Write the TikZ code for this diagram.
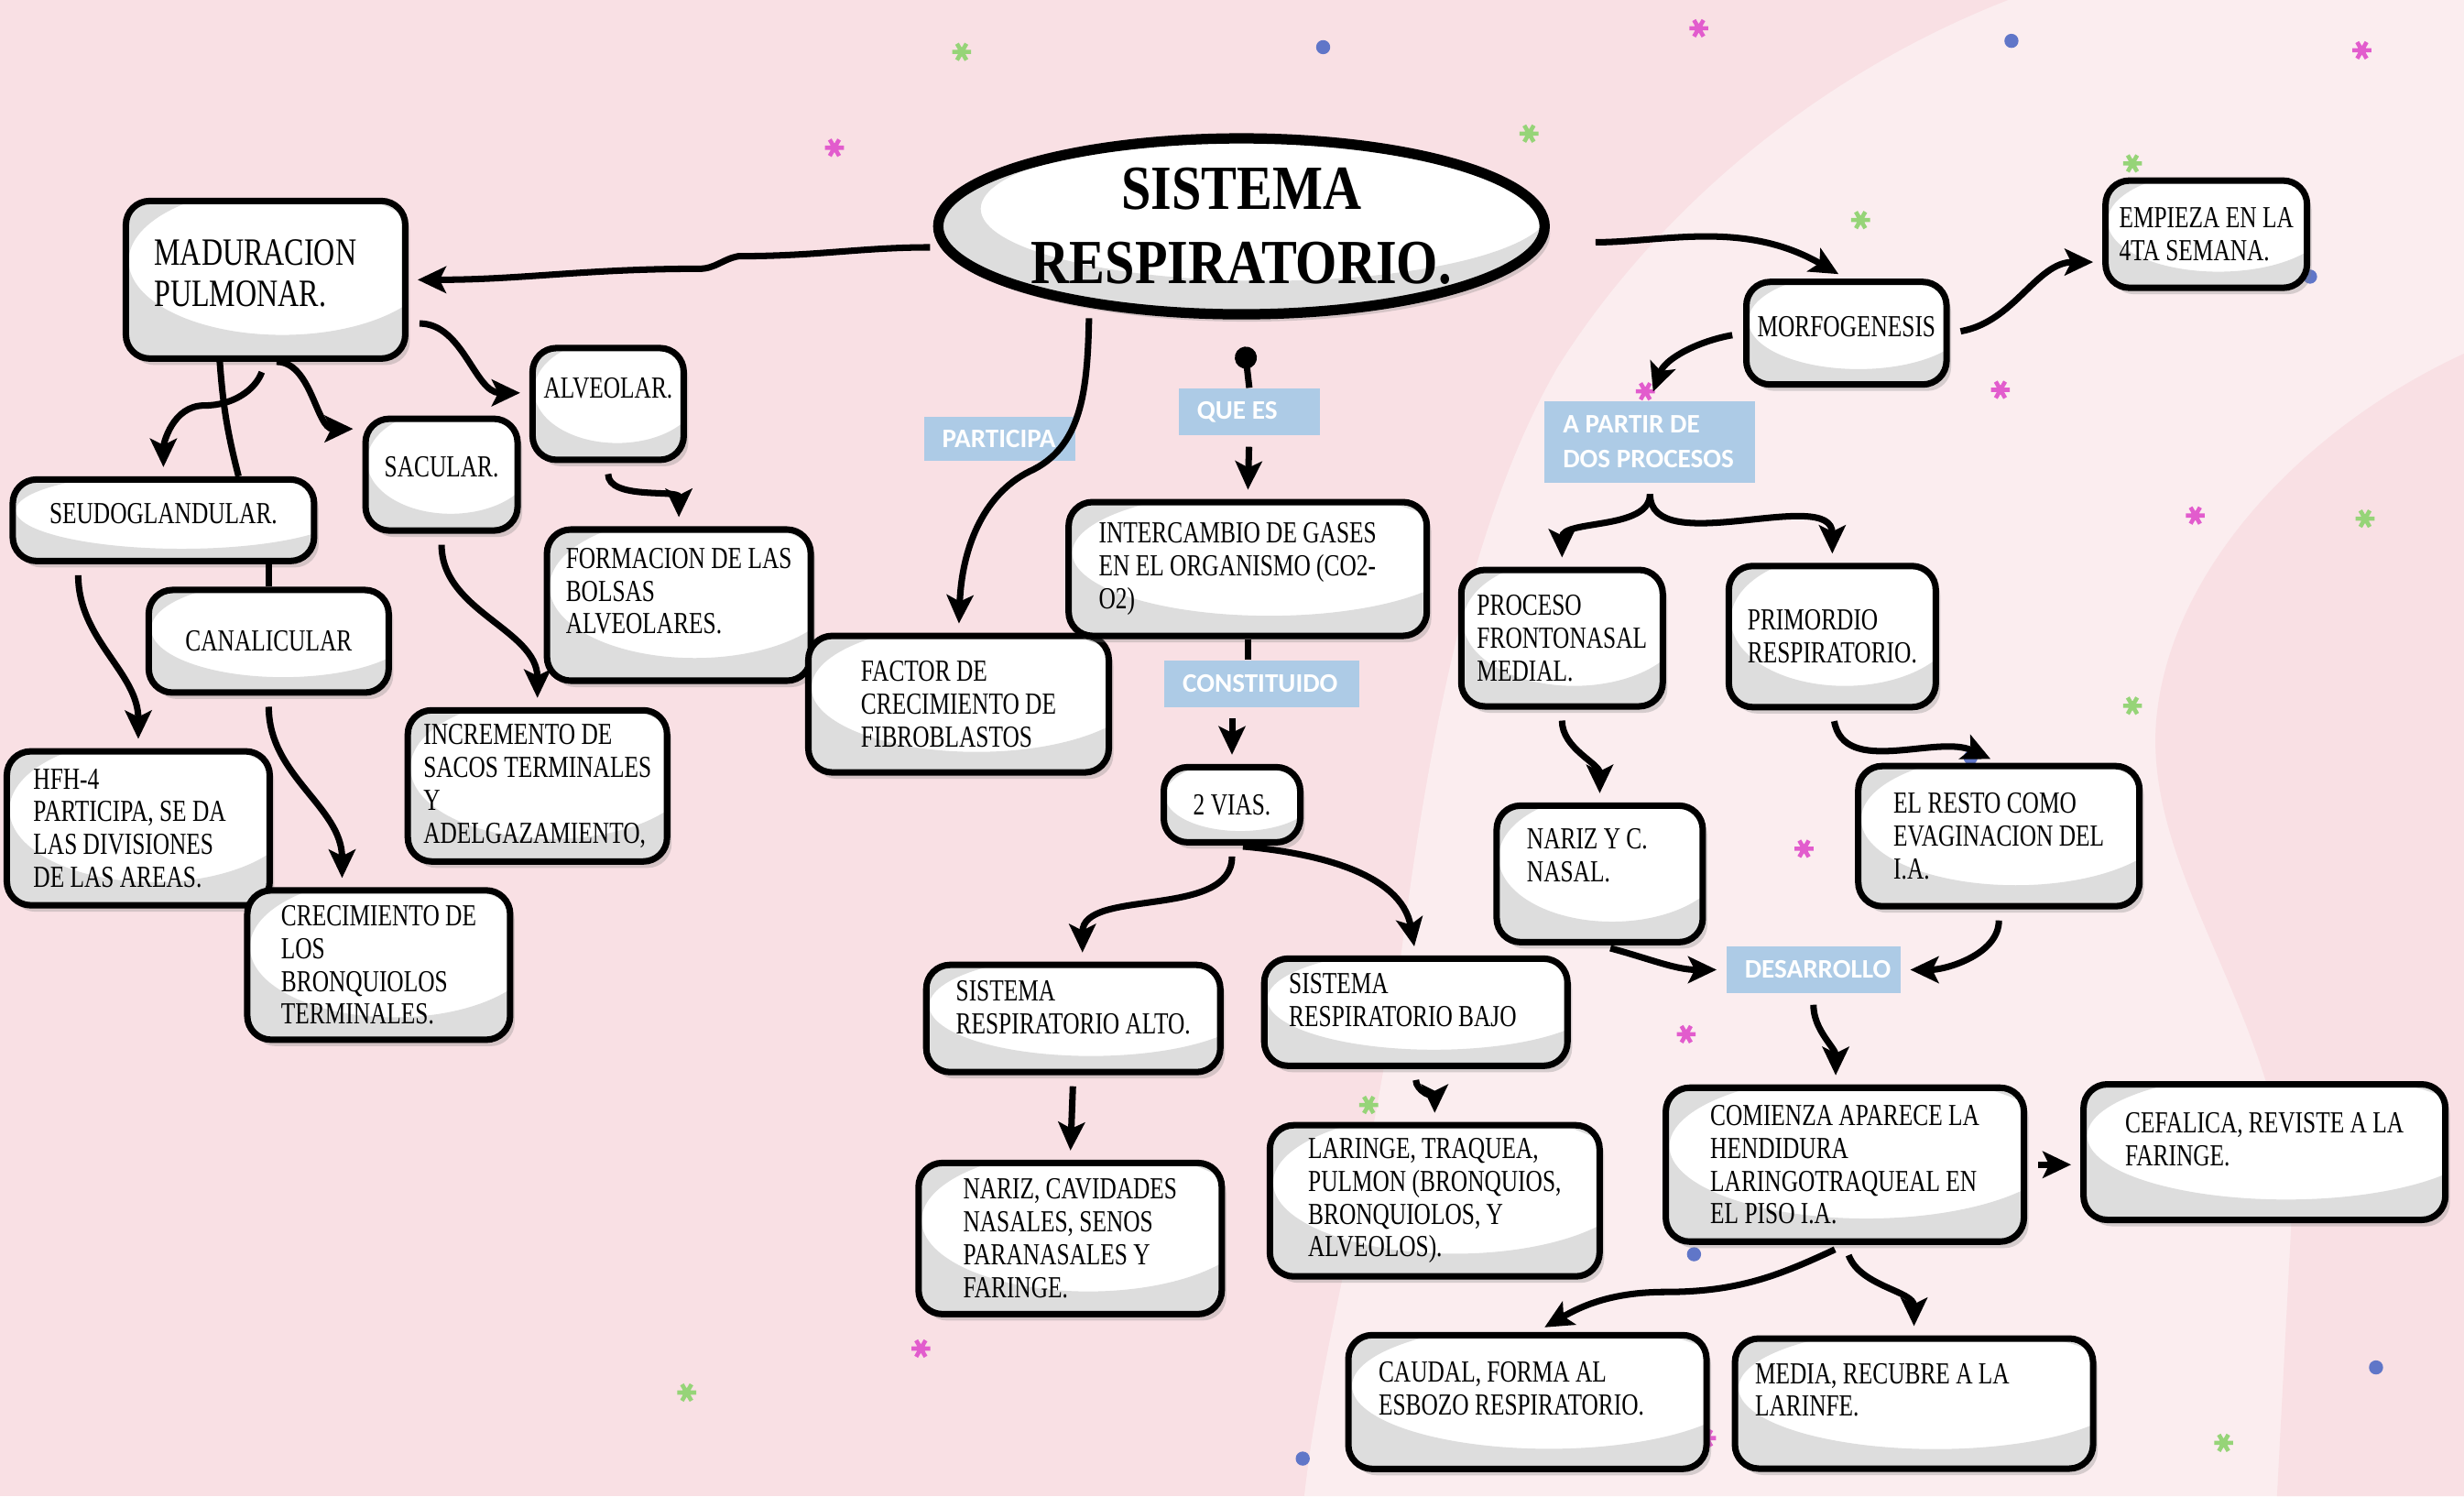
\documentclass[tikz,border=0pt]{standalone}
\usepackage{fontspec}
\setmainfont{Liberation Serif}[FakeStretch=0.76]
\newfontfamily\headfont{Liberation Serif}[FakeStretch=0.85]
\newfontfamily\tagfont{Carlito}
\usetikzlibrary{shapes.geometric}
\usetikzlibrary{arrows.meta}
\usetikzlibrary{shadows}
\usetikzlibrary{calc}

\definecolor{bgpink}{RGB}{249,224,228}
\definecolor{bglight}{RGB}{251,237,239}
\definecolor{tagblue}{RGB}{173,203,230}
\definecolor{cardgrey}{RGB}{221,221,221}
\definecolor{starpink}{RGB}{226,92,205}
\definecolor{stargreen}{RGB}{150,212,120}
\definecolor{starblue}{RGB}{96,118,200}

\tikzset{
	card/.style={draw, line width=2pt, fill=white, rounded corners=2.6mm, align=flush left, inner sep=1.2mm,
		font=\fontsize{9.5}{10.2}\selectfont,
		drop shadow={opacity=0.3, shadow xshift=0.5mm, shadow yshift=-0.7mm},
		path picture={\fill[cardgrey, even odd rule] let \p1=(path picture bounding box.south west), \p2=(path picture bounding box.north east) in
			(\p1) rectangle (\p2) ({0.44*\x1+0.56*\x2},{0.38*\y1+0.62*\y2}) ellipse [x radius={0.55*(\x2-\x1)}, y radius={0.47*(\y2-\y1)}];}},
	raised/.style={text depth=#1},
	headline/.style={ellipse, draw, line width=3.2pt, fill=white, inner sep=0pt, align=center,
		font=\headfont\fontsize{19.5}{23}\bfseries\selectfont,
		drop shadow={opacity=0.3, shadow xshift=0.6mm, shadow yshift=-0.8mm},
		path picture={\fill[cardgrey, even odd rule] let \p1=(path picture bounding box.south west), \p2=(path picture bounding box.north east) in
			(\p1) rectangle (\p2) ({0.46*\x1+0.54*\x2},{0.40*\y1+0.60*\y2}) ellipse [x radius={0.47*(\x2-\x1)}, y radius={0.41*(\y2-\y1)}];}},
	tagbox/.style={fill=tagblue, text=white, align=flush left, inner xsep=2mm, inner ysep=0.8mm,
		font=\tagfont\bfseries\fontsize{8.3}{11}\selectfont},
	arrowline/.style={->, line width=2pt, shorten <=1.2mm, shorten >=1mm},
	plainline/.style={line width=2pt}
}

\begin{document}
\begin{tikzpicture}[x=0.17156mm, y=0.17156mm, >={Stealth[length=3.1mm, width=2.9mm, inset=0.7mm]}]
	\path[use as bounding box, fill=bgpink] (0,0) rectangle (1568,-952);
	\fill[bglight] (1278,0) .. controls (1150,-50) and (1050,-140) .. (991,-234) .. controls (930,-340) and (905,-500) .. (890,-620) .. controls (870,-760) and (840,-860) .. (830,-952) -- (1568,-952) -- (1568,0) -- cycle;
	\fill[bgpink] (1568,-225) .. controls (1470,-270) and (1380,-360) .. (1372,-460) .. controls (1365,-560) and (1455,-650) .. (1458,-780) -- (1449,-952) -- (1568,-952) -- cycle;

	\foreach \sx/\sy/\sc in {531/94/starpink, 1081/18/starpink, 1503/32/starpink, 1273/248/starpink, 1047/249/starpink, 1397/328/starpink, 1148/540/starpink, 1073/658/starpink, 586/858/starpink, 1086/915/starpink, 612/33/stargreen, 973/85/stargreen, 1357/104/stargreen, 1184/140/stargreen, 1505/330/stargreen, 1357/449/stargreen, 871/703/stargreen, 437/886/stargreen, 1415/918/stargreen}
	{
		\draw[\sc, line width=1.3pt] (\sx-6,-\sy) -- (\sx+6,-\sy) (\sx-3,-\sy-5.2) -- (\sx+3,-\sy+5.2) (\sx-3,-\sy+5.2) -- (\sx+3,-\sy-5.2);
		\fill[\sc] (\sx,-\sy) circle (3);
	}
	\foreach \sx/\sy in {1280/26, 842/30, 1470/176, 1254/482, 1512/870, 829/928, 1078/798}
		\fill[starblue] (\sx,-\sy) circle (4.5);

	\node[headline, minimum width=66.2mm, minimum height=19.2mm] (sistema) at (790,-144) {SISTEMA\\RESPIRATORIO.};

	\node[card, minimum width=30.5mm, minimum height=17.2mm, text width=24.3mm, raised=6mm, font=\fontsize{12}{12.8}\selectfont] (maduracion) at (169,-178) {MADURACION\\PULMONAR.};
	\node[card, minimum width=16.5mm, minimum height=12.2mm, raised=3.4mm] (alveolar) at (387,-257) {ALVEOLAR.};
	\node[card, minimum width=16.6mm, minimum height=12.2mm, raised=1.7mm] (sacular) at (281,-302) {SACULAR.};
	\node[card, minimum width=32.9mm, minimum height=8.9mm, raised=1.4mm] (seudoglandular) at (104,-331) {SEUDOGLANDULAR.};
	\node[card, minimum width=26.2mm, minimum height=11.2mm] (canalicular) at (171,-408) {CANALICULAR};
	\node[card, minimum width=28.8mm, minimum height=16.5mm, raised=3.1mm] (bolsas) at (432,-385) {FORMACION DE LAS\\BOLSAS\\ALVEOLARES.};
	\node[card, minimum width=28.7mm, minimum height=16.8mm, text width=22.9mm] (hfh) at (88,-527) {HFH-4\\PARTICIPA, SE DA\\LAS DIVISIONES\\DE LAS AREAS.};
	\node[card, minimum width=28.3mm, minimum height=16.5mm] (sacos) at (342,-500) {INCREMENTO DE\\SACOS TERMINALES\\Y\\ADELGAZAMIENTO,};
	\node[card, minimum width=28.7mm, minimum height=16.3mm] (bronquiolos) at (241,-614) {CRECIMIENTO DE\\LOS\\BRONQUIOLOS\\TERMINALES.};

	\node[card, minimum width=32.8mm, minimum height=14.9mm] (factor) at (610,-448) {FACTOR DE\\CRECIMIENTO DE\\FIBROBLASTOS};
	\node[card, minimum width=39.1mm, minimum height=14.6mm, text width=32.5mm] (intercambio) at (794,-362) {INTERCAMBIO DE GASES\\EN EL ORGANISMO (CO2-\\O2)};
	\node[card, minimum width=14.9mm, minimum height=8.2mm] (vias) at (784,-512) {2 VIAS.};
	\node[card, minimum width=32.1mm, minimum height=11.7mm, raised=2.4mm] (alto) at (683,-648) {SISTEMA\\RESPIRATORIO ALTO.};
	\node[card, minimum width=33.1mm, minimum height=11.7mm, text width=27.7mm, raised=6.2mm] (bajo) at (901,-644) {SISTEMA\\RESPIRATORIO BAJO};
	\node[card, minimum width=33.1mm, minimum height=16.5mm] (nariz) at (681,-788) {NARIZ, CAVIDADES\\NASALES, SENOS\\PARANASALES Y\\FARINGE.};
	\node[card, minimum width=36mm, minimum height=16.5mm] (laringe) at (913,-764) {LARINGE, TRAQUEA,\\PULMON (BRONQUIOS,\\BRONQUIOLOS, Y\\ALVEOLOS).};

	\node[card, minimum width=21.6mm, minimum height=11.2mm, raised=1.4mm] (morfogenesis) at (1175,-212) {MORFOGENESIS};
	\node[card, minimum width=22mm, minimum height=11.7mm] (semana) at (1404,-149) {EMPIEZA EN LA\\4TA SEMANA.};
	\node[card, minimum width=22mm, minimum height=14.9mm] (frontonasal) at (994,-406) {PROCESO\\FRONTONASAL\\MEDIAL.};
	\node[card, minimum width=22.6mm, minimum height=15.4mm] (primordio) at (1166,-405) {PRIMORDIO\\RESPIRATORIO.};
	\node[card, minimum width=22.5mm, minimum height=14.9mm, text width=15.9mm, raised=7.6mm] (fosas) at (1018,-556) {NARIZ Y C.\\NASAL.};
	\node[card, minimum width=30.7mm, minimum height=15.3mm] (resto) at (1272,-532) {EL RESTO COMO\\EVAGINACION DEL\\I.A.};
	\node[card, minimum width=39.1mm, minimum height=16.8mm] (hendidura) at (1174,-741) {COMIENZA APARECE LA\\HENDIDURA\\LARINGOTRAQUEAL EN\\EL PISO I.A.};
	\node[card, minimum width=39.5mm, minimum height=14.8mm, raised=2.8mm] (cefalica) at (1441,-733) {CEFALICA, REVISTE A LA\\FARINGE.};
	\node[card, minimum width=39.1mm, minimum height=14.6mm, text width=32.5mm, raised=6.5mm] (caudal) at (972,-892) {CAUDAL, FORMA AL\\ESBOZO RESPIRATORIO.};
	\node[card, minimum width=39.1mm, minimum height=14.2mm, text width=34.7mm, raised=6.6mm] (media) at (1218,-893) {MEDIA, RECUBRE A LA\\LARINFE.};

	\node[tagbox, text width=12.5mm, minimum height=4.8mm] (participa) at (636,-279) {PARTICIPA};
	\node[tagbox, text width=11.4mm, minimum height=5.1mm] (quees) at (795,-262) {QUE ES};
	\node[tagbox, text width=17.3mm, minimum height=5.1mm] (constituido) at (803,-435) {CONSTITUIDO};
	\node[tagbox, text width=19mm, minimum height=8.9mm] (procesos) at (1050,-281) {A PARTIR DE\\DOS PROCESOS};
	\node[tagbox, text width=15mm, minimum height=5.1mm] (desarrollo) at (1154,-617) {DESARROLLO};

	\draw[arrowline] (sistema.184) to[out=180,in=0] (470,-163) to[out=190,in=0] (445,-171) to[out=180,in=0] (maduracion.east);
	\draw[arrowline] (maduracion.-17) to[out=0,in=180] (alveolar.172);
	\draw[arrowline] (maduracion.south) to[out=0,in=180] (sacular.150);
	\draw[arrowline] (maduracion.south) to[out=-110,in=0] (130,-258) to[out=180,in=90] (seudoglandular.north);
	\draw[plainline] ([xshift=-5mm]maduracion.south) to[bend right=5] ([xshift=8.2mm]seudoglandular.north);
	\draw[plainline] (seudoglandular.south -| canalicular.north) -- (canalicular.north);
	\draw[arrowline] ([xshift=-9.3mm]seudoglandular.south) to[out=-90,in=90] (hfh.north);
	\draw[arrowline] (canalicular.south) to[out=-90,in=90] ([xshift=-4mm]bronquiolos.north);
	\draw[arrowline] (sacular.south) to[out=-90,in=90] (sacos.north);
	\draw[arrowline] (alveolar.south) to[out=-90,in=90] (bolsas.north);

	\draw[arrowline] (sistema.208) .. controls (692,-250) and (688,-285) .. (655,-300) .. controls (625,-315) and (612,-350) .. (factor.north);
	\draw[plainline, {Circle[length=2.4mm]}-, shorten <=3mm] (sistema.south) -- (quees.north);
	\draw[arrowline] (quees.south) -- (intercambio.north);
	\draw[plainline] (intercambio.south) -- (intercambio.south |- constituido.north);
	\draw[arrowline] (vias.north |- constituido.south) -- (vias.north);
	\draw[arrowline] (vias.south) to[out=-90,in=90] ([xshift=1mm]alto.north);
	\draw[arrowline] (vias.south) to[out=-5,in=100] (bajo.north);
	\draw[arrowline] (alto.south) -- (nariz.north);
	\draw[arrowline] (bajo.south) to[out=-90,in=90] (laringe.north);

	\draw[arrowline, shorten <=5.5mm] (sistema.-3) to[out=0,in=150] (morfogenesis.north);
	\draw[arrowline] (morfogenesis.east) to[out=10,in=180] (semana.195);
	\draw[arrowline] (morfogenesis.west) to[out=190,in=70] (procesos.north);
	\draw[arrowline] (procesos.south) to[out=-90,in=90] (frontonasal.north);
	\draw[arrowline] (procesos.south) to[out=-90,in=90] (primordio.north);
	\draw[arrowline] (frontonasal.south) to[out=-90,in=90] (fosas.north);
	\draw[arrowline] (primordio.south) to[out=-80,in=155] (resto.north);
	\draw[arrowline] (fosas.south) to[out=-15,in=180] (desarrollo.west);
	\draw[arrowline] (resto.south) to[out=-90,in=0] (desarrollo.east);
	\draw[arrowline] (desarrollo.south) to[out=-90,in=90] ([xshift=-1mm]hendidura.north);
	\draw[arrowline] (hendidura.east) -- (hendidura.east -| cefalica.west);
	\draw[arrowline] (hendidura.south) to[out=205,in=0] (1060,-822) to[out=180,in=30] ([xshift=1mm]caudal.north);
	\draw[arrowline] (hendidura.south) to[out=-70,in=90] (media.north);
\end{tikzpicture}
\end{document}
